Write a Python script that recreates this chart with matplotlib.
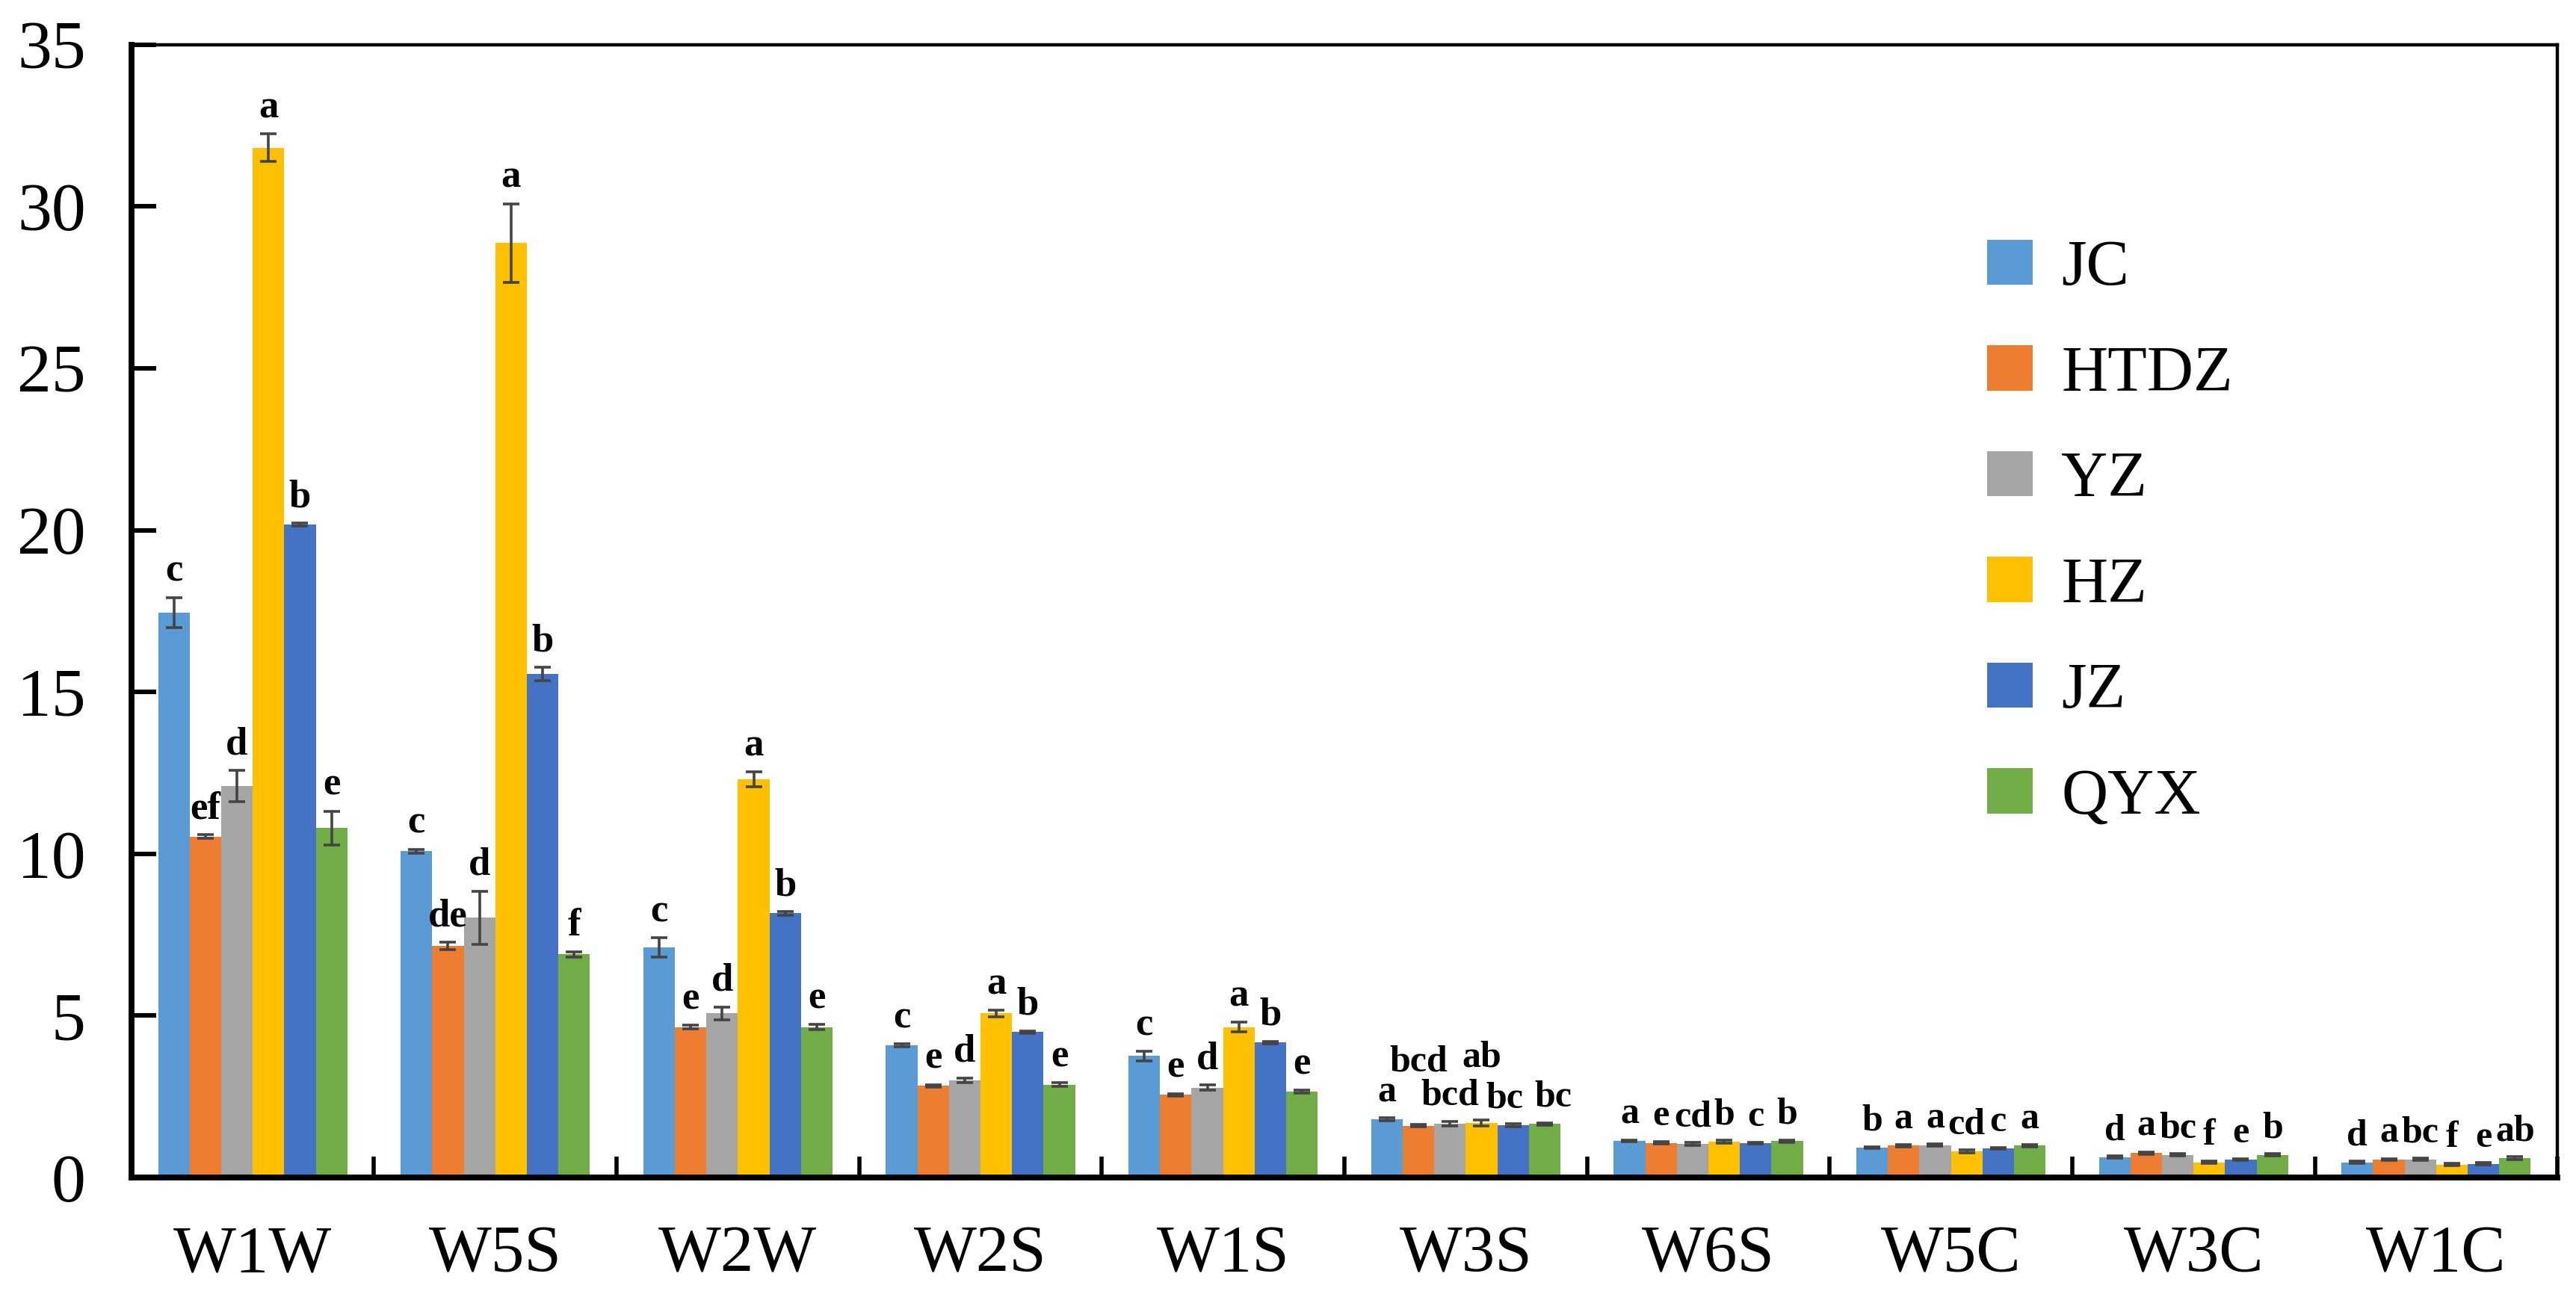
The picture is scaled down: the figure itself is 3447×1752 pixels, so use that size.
import numpy as np
import matplotlib
matplotlib.use("Agg")
import matplotlib.pyplot as plt
from matplotlib.ticker import FixedLocator, NullFormatter

categories = ["W1W", "W5S", "W2W", "W2S", "W1S", "W3S", "W6S", "W5C", "W3C", "W1C"]
series = ["JC", "HTDZ", "YZ", "HZ", "JZ", "QYX"]

JC   = [17.45, 10.08, 7.10, 4.08, 3.75, 1.80, 1.13, 0.92, 0.63, 0.47]
HTDZ = [10.53, 7.15, 4.65, 2.83, 2.55, 1.60, 1.07, 0.98, 0.75, 0.55]
YZ   = [12.10, 8.03, 5.07, 3.00, 2.78, 1.67, 1.04, 1.00, 0.70, 0.56]
HZ   = [31.82, 28.87, 12.30, 5.07, 4.65, 1.68, 1.10, 0.81, 0.47, 0.40]
JZ   = [20.17, 15.56, 8.16, 4.49, 4.17, 1.61, 1.06, 0.90, 0.55, 0.42]
QYX  = [10.80, 6.90, 4.65, 2.87, 2.65, 1.65, 1.12, 0.98, 0.70, 0.60]

JC_err   = [0.47, 0.06, 0.30, 0.05, 0.14, 0.04, 0.03, 0.03, 0.03, 0.03]
HTDZ_err = [0.06, 0.12, 0.06, 0.04, 0.04, 0.03, 0.03, 0.03, 0.04, 0.03]
YZ_err   = [0.48, 0.82, 0.20, 0.08, 0.08, 0.07, 0.04, 0.03, 0.03, 0.03]
HZ_err   = [0.43, 1.22, 0.23, 0.10, 0.15, 0.10, 0.05, 0.04, 0.04, 0.04]
JZ_err   = [0.05, 0.20, 0.05, 0.04, 0.04, 0.04, 0.03, 0.03, 0.03, 0.03]
QYX_err  = [0.52, 0.08, 0.07, 0.06, 0.04, 0.04, 0.04, 0.03, 0.03, 0.04]

JC_sig   = ["c", "c", "c", "c", "c", "a", "a", "b", "d", "d"]
HTDZ_sig = ["ef", "de", "e", "e", "e", "bcd", "e", "a", "a", "a"]
YZ_sig   = ["d", "d", "d", "d", "d", "bcd", "cd", "a", "bc", "bc"]
HZ_sig   = ["a", "a", "a", "a", "a", "ab", "b", "cd", "f", "f"]
JZ_sig   = ["b", "b", "b", "b", "b", "bc", "c", "c", "e", "e"]
QYX_sig  = ["e", "f", "e", "e", "e", "bc", "b", "a", "b", "ab"]

colors = ["#5B9BD5", "#ED7D31", "#A5A5A5", "#FFC000", "#4472C4", "#70AD47"]

values = [JC, HTDZ, YZ, HZ, JZ, QYX]
errors = [JC_err, HTDZ_err, YZ_err, HZ_err, JZ_err, QYX_err]
sigs = [JC_sig, HTDZ_sig, YZ_sig, HZ_sig, JZ_sig, QYX_sig]

# label layout tweaks: lifted labels and small sideways nudges (group, series)
raised = {(5, 1), (5, 3)}
nudge = {(5, 4): -0.035, (5, 5): 0.035}

serif = ["Liberation Serif", "DejaVu Serif"]
plt.rcParams["font.family"] = serif

fig = plt.figure(figsize=(17.24, 8.76), dpi=200)
ax = fig.add_axes([0.051, 0.1005, 0.9415, 0.8653])

x = np.arange(len(categories))
bw = 0.13
for i, (name, vals, errs, col, sg) in enumerate(zip(series, values, errors, colors, sigs)):
    xs = x + (i - 2.5) * bw
    ax.bar(xs, vals, width=bw, color=col, label=name, zorder=2)
    ax.errorbar(xs, vals, yerr=errs, fmt="none", ecolor="#444444",
                elinewidth=1.3, capsize=4, capthick=1.3, zorder=3)
    for j, (xx, v, e, s) in enumerate(zip(xs, vals, errs, sg)):
        yy = v + e + 0.25
        if (j, i) in raised:
            yy += 1.15
        fs = 19 if j < 5 else 18
        ax.text(xx + nudge.get((j, i), 0.0), yy, s, ha="center", va="bottom",
                fontsize=fs, fontweight="bold", family=serif, zorder=4)

ax.set_xlim(-0.5, 9.5)
ax.set_ylim(0, 35)
ax.set_yticks(np.arange(0, 36, 5))
ax.set_xticks(x)
ax.set_xticklabels(categories)
ax.xaxis.set_minor_locator(FixedLocator(np.arange(-0.5, 10, 1.0)))
ax.xaxis.set_minor_formatter(NullFormatter())

ax.tick_params(axis="x", which="major", length=0, pad=23, labelsize=32)
ax.tick_params(axis="x", which="minor", direction="in", length=10, width=2.0)
ax.tick_params(axis="y", which="major", direction="in", length=12, width=2.2,
               pad=22, labelsize=33)

for side in ["left", "bottom"]:
    ax.spines[side].set_linewidth(2.8)
for side in ["top", "right"]:
    ax.spines[side].set_linewidth(1.6)

leg = ax.legend(loc="upper left", bbox_to_anchor=(0.765, 0.828), frameon=False,
                fontsize=31, handlelength=0.7, handleheight=0.7,
                handletextpad=0.45, labelspacing=0.72, borderpad=0, borderaxespad=0)

fig.savefig("out.png", dpi=200)
